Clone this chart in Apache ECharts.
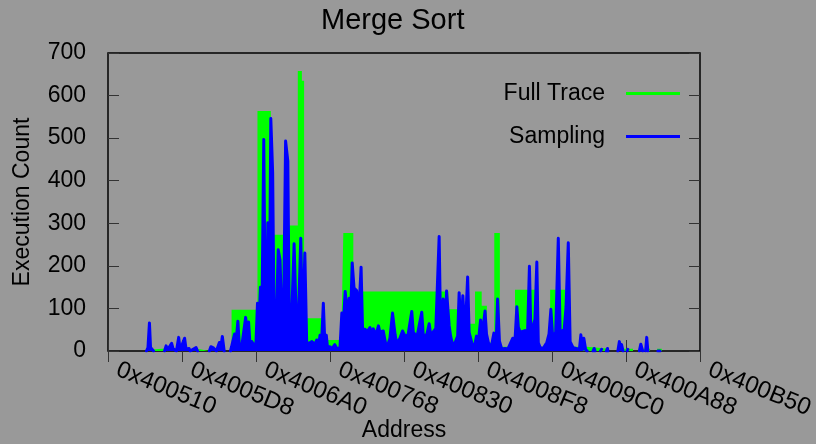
<!DOCTYPE html>
<html>
<head>
<meta charset="utf-8">
<script src="https://cdn.jsdelivr.net/npm/echarts@6/dist/echarts.min.js"></script>
<style>
  html, body { margin: 0; padding: 0; background: #999999; }
  .Merge { width: 816px; height: 444px; }
</style>
</head>
<body>
<div class="Merge"></div>
<script>
// addresses are byte offsets from 0x400510
var baseAddr = 0x400510;
var addrSpan = 1600;
var yTicks = [0, 100, 200, 300, 400, 500, 600, 700];

// full trace: count holds from this offset to the next one
var greenOff = [0, 108, 127, 157, 249, 273, 316, 334, 404, 440,
                487, 513, 524, 530, 578, 632, 636, 663, 920, 978,
                992, 1010, 1024, 1044, 1059, 1100, 1154, 1195, 1249, 1294,
                1348, 1378, 1419, 1438, 1465, 1484, 1497, 1600];
var greenCount = [0, 4, 6, 4, 0, 5, 0, 97, 564, 273,
                  295, 658, 635, 77, 26, 97, 277, 140, 98, 64,
                  140, 106, 20, 277, 10, 144, 10, 144, 10, 6,
                  0, 5, 0, 5, 0, 5, 0, 0];

// sampling (null = no samples, line broken)
var sampOff = [104, 108, 112, 115, 119, 123, 124, 153, 157, 161,
               172, 176, 181, 185, 191, 195, 207, 211, 219, 222,
               238, 242, 243, 274, 278, 284, 289, 293, 301, 305,
               309, 314, 315, 331, 334, 338, 342, 346, 351, 355,
               361, 365, 372, 376, 380, 384, 389, 395, 400, 404,
               408, 412, 416, 421, 425, 428, 432, 436, 440, 445,
               449, 454, 460, 465, 469, 474, 480, 486, 490, 496,
               503, 508, 514, 521, 526, 532, 537, 543, 551, 559,
               564, 569, 573, 577, 582, 586, 590, 593, 600, 605,
               613, 619, 627, 632, 636, 641, 647, 652, 656, 660,
               665, 672, 678, 684, 688, 695, 700, 708, 712, 717,
               724, 731, 735, 744, 749, 753, 762, 769, 776, 780,
               789, 796, 803, 811, 821, 825, 835, 848, 852, 861,
               868, 873, 879, 886, 895, 899, 906, 912, 915, 922,
               926, 933, 938, 945, 949, 954, 959, 965, 972, 976,
               983, 989, 996, 1002, 1007, 1012, 1019, 1023, 1028, 1035,
               1043, 1049, 1053, 1058, 1064, 1073, 1081, 1086, 1094, 1100,
               1105, 1109, 1114, 1119, 1127, 1134, 1139, 1143, 1149, 1154,
               1159, 1163, 1168, 1176, 1181, 1186, 1192, 1197, 1202, 1210,
               1217, 1222, 1228, 1232, 1238, 1244, 1249, 1257, 1265, 1270,
               1274, 1278, 1282, 1286, 1291, 1295, 1296, 1311, 1314, 1316,
               1317, 1331, 1334, 1336, 1337, 1347, 1350, 1351, 1352, 1378,
               1382, 1385, 1388, 1392, 1393, 1403, 1405, 1408, 1409, 1436,
               1440, 1445, 1446, 1453, 1456, 1459, 1460, 1486, 1489, 1492];
var sampCount = [0, 8, 66, 8, 6, 0, null, 0, 12, 3,
                 18, 5, 3, 0, 32, 3, 30, 4, 6, 0,
                 8, 0, null, 0, 10, 8, 10, 0, 20, 8,
                 34, 0, null, 0, 10, 25, 40, 20, 70, 12,
                 8, 10, 79, 40, 68, 12, 22, 12, 20, 112,
                 60, 150, 80, 497, 70, 60, 301, 60, 546, 419,
                 60, 40, 238, 214, 90, 50, 493, 446, 60, 70,
                 252, 98, 60, 265, 40, 230, 20, 18, 22, 15,
                 26, 12, 37, 15, 112, 20, 37, 10, 10, 5,
                 15, 5, 8, 89, 60, 140, 89, 124, 90, 207,
                 148, 142, 89, 197, 51, 51, 45, 55, 40, 52,
                 38, 59, 44, 47, 46, 5, 30, 89, 38, 18,
                 30, 47, 35, 38, 93, 44, 33, 91, 38, 36,
                 64, 33, 45, 53, 269, 44, 122, 60, 141, 60,
                 35, 8, 20, 35, 137, 50, 130, 35, 174, 44,
                 20, 5, 35, 30, 73, 40, 94, 40, 20, 5,
                 42, 20, 122, 23, 5, 6, 5, 8, 30, 25,
                 104, 56, 44, 48, 48, 44, 199, 40, 59, 75,
                 209, 19, 8, 6, 8, 20, 40, 98, 30, 44,
                 265, 44, 48, 40, 104, 254, 22, 8, 6, 8,
                 3, 38, 10, 30, 3, 0, null, 0, 6, 0,
                 null, 0, 4, 0, null, 0, 6, 0, null, 0,
                 22, 10, 15, 0, null, 0, 4, 0, null, 0,
                 16, 0, null, 0, 32, 0, null, 0, 4, 0];

function toPairs(offs, counts) {
	var out = [];
	for (var i = 0; i < offs.length; i++) {
		out.push([baseAddr + offs[i], counts[i] === null ? '-' : counts[i]]);
	}
	return out;
}

var fontName = '"Liberation Sans", Arial, sans-serif';
var Merge = echarts.init(document.querySelector('.Merge'));

var option = {
	animation: false,
	backgroundColor: '#999999',
	textStyle: { fontFamily: fontName, color: '#000' },
	title: {
		text: 'Merge Sort',
		left: 321,
		top: 6,
		padding: 0,
		textStyle: { fontFamily: fontName, fontSize: 29, fontWeight: 'normal', color: '#000' }
	},
	legend: {
		orient: 'vertical',
		align: 'right',
		right: 131,
		top: 77,
		itemWidth: 54,
		itemHeight: 3,
		itemGap: 20,
		data: [{ name: 'Full Trace', icon: 'rect' }, { name: 'Sampling', icon: 'rect' }],
		textStyle: { fontFamily: fontName, fontSize: 23, color: '#000', padding: [0, 16, 0, 0] }
	},
	grid: {
		left: 108, right: 116, top: 53, bottom: 93,
		outerBoundsMode: 'none',
		show: true,
		borderColor: '#000',
		borderWidth: 1.5
	},
	xAxis: [{
		type: 'value',
		min: baseAddr,
		max: baseAddr + addrSpan,
		interval: 200,
		name: 'Address',
		nameLocation: 'middle',
		nameGap: 68,
		nameMoveOverlap: false,
		nameTextStyle: { fontFamily: fontName, fontSize: 23, color: '#000' },
		axisLine: { show: false },
		axisTick: { inside: true, length: 11, lineStyle: { color: '#333' } },
		splitLine: { show: false },
		axisLabel: {
			rotate: -22,
			margin: 14,
			padding: [0, 0, 0, 10],
			fontFamily: fontName,
			fontSize: 24,
			color: '#000',
			formatter: function (v) { return '0x' + v.toString(16).toUpperCase(); }
		}
	}, {
		type: 'value',
		position: 'top',
		min: baseAddr,
		max: baseAddr + addrSpan,
		interval: 200,
		axisLine: { show: false },
		axisTick: { inside: true, length: 11, lineStyle: { color: '#333' } },
		axisLabel: { show: false },
		splitLine: { show: false }
	}],
	yAxis: [{
		type: 'value',
		min: yTicks[0],
		max: yTicks[yTicks.length - 1],
		interval: 100,
		name: 'Execution Count',
		nameLocation: 'middle',
		nameGap: 74,
		nameTextStyle: { fontFamily: fontName, fontSize: 23, color: '#000' },
		axisLine: { show: false },
		axisTick: { show: true, inside: true, length: 11, lineStyle: { color: '#333' } },
		splitLine: { show: false },
		axisLabel: { margin: 22, fontFamily: fontName, fontSize: 23, color: '#000' }
	}, {
		type: 'value',
		position: 'right',
		min: yTicks[0],
		max: yTicks[yTicks.length - 1],
		interval: 100,
		axisLine: { show: false },
		axisTick: { show: true, inside: true, length: 11, lineStyle: { color: '#333' } },
		axisLabel: { show: false },
		splitLine: { show: false }
	}],
	series: [
		{
			name: 'Full Trace',
			type: 'line',
			step: 'end',
			showSymbol: false,
			color: '#00ff00',
			lineStyle: { width: 0 },
			areaStyle: { color: '#00ff00', opacity: 1 },
			data: toPairs(greenOff, greenCount)
		},
		{
			name: 'Sampling',
			type: 'line',
			showSymbol: false,
			connectNulls: false,
			color: '#0000ff',
			lineStyle: { width: 3, color: '#0000ff', join: 'round', cap: 'round' },
			areaStyle: { color: '#0000ff', opacity: 1 },
			data: toPairs(sampOff, sampCount)
		}
	]
};
Merge.setOption(option);
</script>
</body>
</html>
